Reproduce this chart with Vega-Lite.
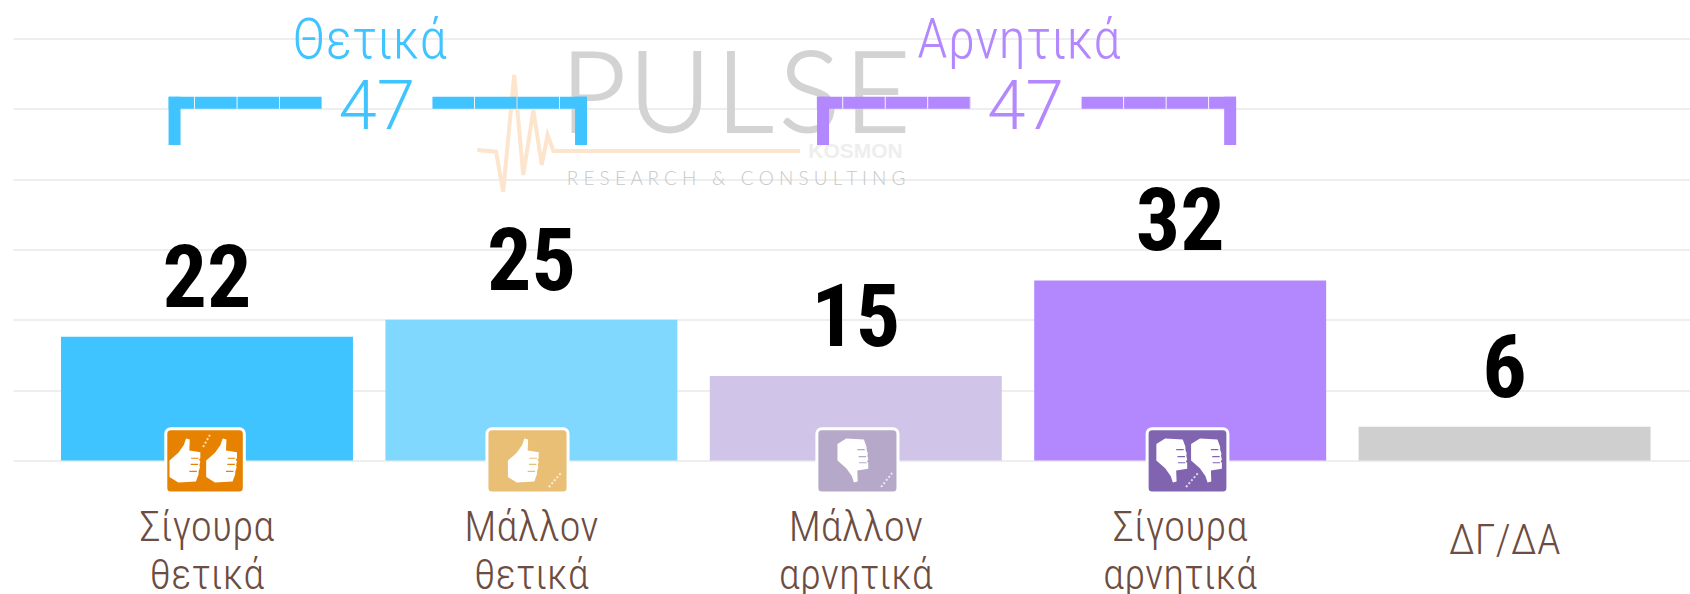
{
"$schema":"https://vega.github.io/schema/vega-lite/v6.json",
"width":1677,"height":422,
"autosize":"none",
"padding":{"left":13,"top":38.5,"right":0,"bottom":133.5},
"background":"white",
"config":{"view":{"stroke":null}},
"datasets":{
"bars":[
{"cat":"Σίγουρα θετικά","value":22},
{"cat":"Μάλλον θετικά","value":25},
{"cat":"Μάλλον αρνητικά","value":15},
{"cat":"Σίγουρα αρνητικά","value":32},
{"cat":"ΔΓ/ΔΑ","value":6}],
"pulse":[
{"u":1.431,"v":55.18},{"u":1.489,"v":54.88},{"u":1.511,"v":47.77},{"u":1.545,"v":68.51},{"u":1.573,"v":50.74},{"u":1.604,"v":62.29},{"u":1.63,"v":52.52},{"u":1.648,"v":57.85},{"u":1.666,"v":55.0},{"u":2.426,"v":55.0}],
"logo":[
{"u":1.789,"v":58.4,"t":"P"},{"u":2.025,"v":58.4,"t":"U"},{"u":2.256,"v":58.4,"t":"L"},{"u":2.455,"v":58.4,"t":"S"},{"u":2.664,"v":58.4,"t":"E"}],
"hbar":[
{"g":"Θετικά","side":"l","u1":0.48,"u2":0.953,"v":63.6},
{"g":"Θετικά","side":"r","u1":1.293,"u2":1.768,"v":63.6},
{"g":"Αρνητικά","side":"l","u1":2.478,"u2":2.953,"v":63.6},
{"g":"Αρνητικά","side":"r","u1":3.294,"u2":3.77,"v":63.6}],
"legs":[
{"g":"Θετικά","u":0.498,"v1":64.65,"v2":56.07},
{"g":"Θετικά","u":1.751,"v1":64.65,"v2":56.07},
{"g":"Αρνητικά","u":2.497,"v1":64.65,"v2":56.07},
{"g":"Αρνητικά","u":3.752,"v1":64.65,"v2":56.07}],
"totals":[
{"g":"Θετικά","u":1.121,"total":47,"u2":1.1},
{"g":"Αρνητικά","u":3.121,"total":47,"u2":3.101}],
"icons":[
{"k":"a","u1":0.471,"u2":0.713,"v1":5.65,"v2":-5.78},
{"k":"b","u1":1.461,"u2":1.711,"v1":5.65,"v2":-5.78},
{"k":"c","u1":2.478,"u2":2.728,"v1":5.65,"v2":-5.78},
{"k":"d","u1":3.496,"u2":3.745,"v1":5.65,"v2":-5.78}],
"up":[{"u":0.53,"v":0},{"u":0.643,"v":0},{"u":1.573,"v":0}],
"down":[{"u":2.589,"v":0},{"u":3.572,"v":0},{"u":3.679,"v":0}],
"sparks":[
{"u1":0.586,"u2":0.607,"v1":2.4,"v2":4.53},
{"u1":1.652,"u2":1.689,"v1":-4.71,"v2":-2.22},
{"u1":2.676,"u2":2.71,"v1":-4.71,"v2":-2.22},
{"u1":3.616,"u2":3.653,"v1":-4.71,"v2":-2.22}]
},
"resolve":{"scale":{"x":"independent","color":"independent","fill":"independent"}},
"layer":[
{"data":{"name":"bars"},"mark":{"type":"bar"},
"encoding":{
"x":{"field":"cat","type":"nominal","sort":null,
"scale":{"type":"band","paddingInner":0.1,"paddingOuter":0.1348,"align":0.549},
"axis":{"title":null,"domain":false,"ticks":false,"grid":false,"labelAngle":0,"labelFont":"Roboto Condensed","labelFontWeight":300,"labelFontSize":43,"labelColor":"#6D4C41","labelLineHeight":48,"labelPadding":79.5,"labelOverlap":false,"labelLimit":0,"labelBound":false,"labelFlush":false,"labelExpr":"split(datum.label,' ')","labelBaseline":{"condition":{"test":"datum.value=='ΔΓ/ΔΑ'","value":"middle"},"value":"alphabetic"}}},
"y":{"field":"value","type":"quantitative","scale":{"domain":[0,75],"nice":false},
"axis":{"title":null,"domain":false,"ticks":false,"labels":false,"grid":true,"gridColor":"#EEEEEE","gridWidth":2,"values":[0,12.5,25,37.5,50,62.5,75]}},
"color":{"field":"cat","type":"nominal","sort":null,"legend":null,"scale":{"domain":["Σίγουρα θετικά","Μάλλον θετικά","Μάλλον αρνητικά","Σίγουρα αρνητικά","ΔΓ/ΔΑ"],"range":["#40C4FF","#80D8FF","#D1C4E9","#B388FF","#CFCFCF"]}}
}},
{"data":{"name":"bars"},"mark":{"type":"text","font":"Roboto Condensed","fontWeight":"bold","fontSize":88,"color":"#000000","baseline":"alphabetic","align":"center","dy":-30},
"encoding":{
"x":{"field":"cat","type":"nominal","sort":null,"scale":{"type":"band","paddingInner":0.1,"paddingOuter":0.1348,"align":0.549},"axis":null},
"y":{"field":"value","type":"quantitative"},
"text":{"field":"value","type":"quantitative"}
}},
{"data":{"name":"pulse"},"mark":{"type":"line","color":"#FCE5CC","strokeWidth":4,"strokeJoin":"miter"},
"encoding":{
"x":{"field":"u","type":"quantitative","scale":{"domain":[0,5.1695],"nice":false,"zero":false},"axis":null},
"y":{"field":"v","type":"quantitative"}
}},
{"data":{"name":"logo"},"mark":{"type":"text","font":"Lato","fontWeight":300,"fontSize":113,"color":"#D3D3D3","stroke":"#D3D3D3","strokeWidth":2,"baseline":"alphabetic","align":"center"},
"encoding":{
"x":{"field":"u","type":"quantitative","scale":{"domain":[0,5.1695],"nice":false,"zero":false},"axis":null},
"y":{"field":"v","type":"quantitative"},
"text":{"field":"t","type":"nominal"}
}},
{"data":{"values":[{"u":2.597,"v":53.8,"t":"KOSMON"}]},"mark":{"type":"text","font":"Liberation Sans","fontWeight":"bold","fontSize":21,"color":"#EEEEEE","baseline":"alphabetic","align":"center"},
"encoding":{
"x":{"field":"u","type":"quantitative","scale":{"domain":[0,5.1695],"nice":false,"zero":false},"axis":null},
"y":{"field":"v","type":"quantitative"},
"text":{"field":"t","type":"nominal"}
}},
{"data":{"values":[{"u":2.229,"v":49.0,"t":"R E S E A R C H \u00a0\u00a0& \u00a0\u00a0C O N S U L T I N G"}]},"mark":{"type":"text","font":"Lato","fontWeight":300,"fontSize":19,"color":"#C8C8C8","baseline":"alphabetic","align":"center"},
"encoding":{
"x":{"field":"u","type":"quantitative","scale":{"domain":[0,5.1695],"nice":false,"zero":false},"axis":null},
"y":{"field":"v","type":"quantitative"},
"text":{"field":"t","type":"nominal"}
}},
{"data":{"name":"hbar"},"transform":[{"filter":"datum.side=='l'"}],"mark":{"type":"rule","strokeWidth":12,"strokeDash":[41.6,0.9],"strokeDashOffset":16.2},
"encoding":{
"x":{"field":"u1","type":"quantitative","scale":{"domain":[0,5.1695],"nice":false,"zero":false},"axis":null},
"x2":{"field":"u2"},
"y":{"field":"v","type":"quantitative"},
"color":{"field":"g","type":"nominal","legend":null,"scale":{"domain":["Θετικά","Αρνητικά"],"range":["#40C4FF","#B388FF"]}}
}},
{"data":{"name":"hbar"},"transform":[{"filter":"datum.side=='r'"}],"mark":{"type":"rule","strokeWidth":12,"strokeDash":[41.6,0.9]},
"encoding":{
"x":{"field":"u1","type":"quantitative","scale":{"domain":[0,5.1695],"nice":false,"zero":false},"axis":null},
"x2":{"field":"u2"},
"y":{"field":"v","type":"quantitative"},
"color":{"field":"g","type":"nominal","legend":null,"scale":{"domain":["Θετικά","Αρνητικά"],"range":["#40C4FF","#B388FF"]}}
}},
{"data":{"name":"legs"},"mark":{"type":"rule","strokeWidth":12},
"encoding":{
"x":{"field":"u","type":"quantitative","scale":{"domain":[0,5.1695],"nice":false,"zero":false},"axis":null},
"y":{"field":"v1","type":"quantitative"},
"y2":{"field":"v2"},
"color":{"field":"g","type":"nominal","legend":null,"scale":{"domain":["Θετικά","Αρνητικά"],"range":["#40C4FF","#B388FF"]}}
}},
{"data":{"name":"totals"},"mark":{"type":"text","font":"Roboto","fontWeight":300,"fontSize":69,"baseline":"alphabetic","align":"center"},
"encoding":{
"x":{"field":"u","type":"quantitative","scale":{"domain":[0,5.1695],"nice":false,"zero":false},"axis":null},
"y":{"datum":58.83,"type":"quantitative"},
"text":{"field":"total","type":"quantitative"},
"color":{"field":"g","type":"nominal","legend":null,"scale":{"domain":["Θετικά","Αρνητικά"],"range":["#40C4FF","#B388FF"]}}
}},
{"data":{"name":"totals"},"mark":{"type":"text","font":"Roboto Condensed","fontWeight":300,"fontSize":56,"baseline":"alphabetic","align":"center"},
"encoding":{
"x":{"field":"u2","type":"quantitative","scale":{"domain":[0,5.1695],"nice":false,"zero":false},"axis":null},
"y":{"datum":71.5,"type":"quantitative"},
"text":{"field":"g","type":"nominal"},
"color":{"field":"g","type":"nominal","legend":null,"scale":{"domain":["Θετικά","Αρνητικά"],"range":["#40C4FF","#B388FF"]}}
}},
{"data":{"name":"icons"},"mark":{"type":"rect","cornerRadius":5,"stroke":"#FFFFFF","strokeWidth":3},
"encoding":{
"x":{"field":"u1","type":"quantitative","scale":{"domain":[0,5.1695],"nice":false,"zero":false},"axis":null},
"x2":{"field":"u2"},
"y":{"field":"v1","type":"quantitative"},
"y2":{"field":"v2"},
"fill":{"field":"k","type":"nominal","legend":null,"scale":{"domain":["a","b","c","d"],"range":["#E68200","#E8BF75","#B5A8C9","#8064B0"]}}
}},
{"data":{"name":"sparks"},"mark":{"type":"rule","color":"#FFFFFF","opacity":0.75,"strokeWidth":2,"strokeDash":[2,2]},
"encoding":{
"x":{"field":"u1","type":"quantitative","scale":{"domain":[0,5.1695],"nice":false,"zero":false},"axis":null},
"x2":{"field":"u2"},
"y":{"field":"v1","type":"quantitative"},
"y2":{"field":"v2"}
}},
{"data":{"name":"up"},"mark":{"type":"point","filled":true,"fill":"#FFFFFF","opacity":1,"stroke":null,"size":1936,
"shape":"M0.05 -1 L0.22 -0.95 L0.2 -0.45 L0.7 -0.38 L0.7 -0.1 L0.64 -0.04 L0.7 0.05 L0.66 0.22 L0.68 0.32 L0.62 0.5 L0.62 0.62 L0.5 0.95 L-0.3 1 L-0.7 0.75 L-0.7 0 L-0.3 -0.35 L-0.05 -0.7 Z M0.28 -0.13 L0.28 -0.08 L0.62 -0.08 L0.62 -0.13 Z M0.26 0.15 L0.26 0.2 L0.6 0.2 L0.6 0.15 Z M0.2 0.47 L0.2 0.52 L0.54 0.52 L0.54 0.47 Z"},
"encoding":{
"x":{"field":"u","type":"quantitative","scale":{"domain":[0,5.1695],"nice":false,"zero":false},"axis":null},
"y":{"field":"v","type":"quantitative"}
}},
{"data":{"name":"down"},"mark":{"type":"point","filled":true,"fill":"#FFFFFF","opacity":1,"stroke":null,"size":1936,
"shape":"M0.05 1 L0.22 0.95 L0.2 0.45 L0.7 0.38 L0.7 0.1 L0.64 0.04 L0.7 -0.05 L0.66 -0.22 L0.68 -0.32 L0.62 -0.5 L0.62 -0.62 L0.5 -0.95 L-0.3 -1 L-0.7 -0.75 L-0.7 0 L-0.3 0.35 L-0.05 0.7 Z M0.28 0.13 L0.28 0.08 L0.62 0.08 L0.62 0.13 Z M0.26 -0.15 L0.26 -0.2 L0.6 -0.2 L0.6 -0.15 Z M0.2 -0.47 L0.2 -0.52 L0.54 -0.52 L0.54 -0.47 Z"},
"encoding":{
"x":{"field":"u","type":"quantitative","scale":{"domain":[0,5.1695],"nice":false,"zero":false},"axis":null},
"y":{"field":"v","type":"quantitative"}
}}
]
}
